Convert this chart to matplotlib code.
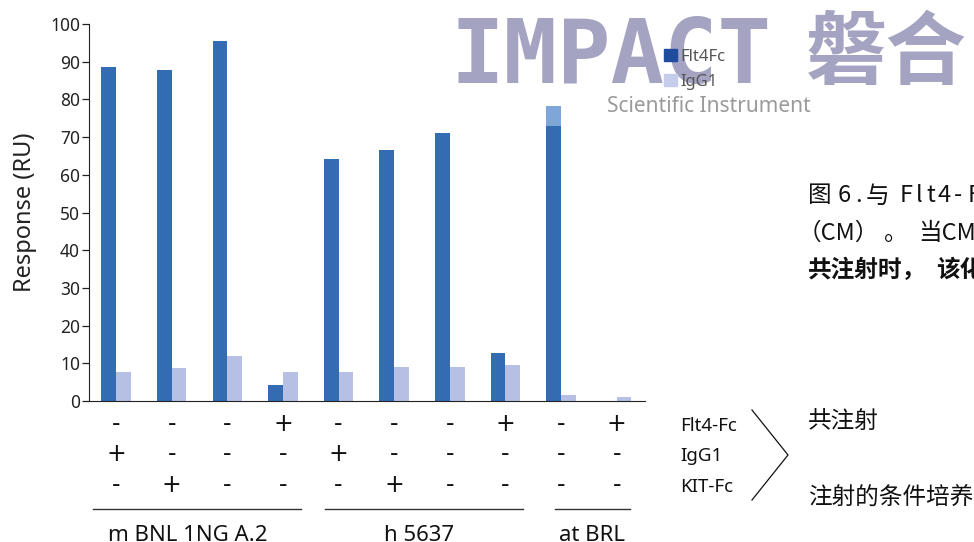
import matplotlib
matplotlib.use("Agg")
import matplotlib.pyplot as plt
from matplotlib.patches import Patch
from matplotlib.lines import Line2D
import numpy as np

plt.rcParams['font.family'] = ['Noto Sans', 'Noto Sans CJK SC', 'DejaVu Sans']

# ---- data ----
flt4fc = [88.5, 87.8, 95.5, 4.3, 64.3, 66.5, 71.0, 12.8, 72.9, 0.0]
flt4fc_extra = [0, 0, 0, 0, 0, 0, 0, 0, 5.4, 0]
igg1 = [7.7, 8.8, 12.0, 7.7, 7.7, 9.1, 9.1, 9.6, 1.5, 1.0]
row_flt4 = ['-', '-', '-', '+', '-', '-', '-', '+', '-', '+']
row_igg1 = ['+', '-', '-', '-', '+', '-', '-', '-', '-', '-']
row_kit = ['-', '+', '-', '-', '-', '+', '-', '-', '-', '-']
row_names = ['Flt4-Fc', 'IgG1', 'KIT-Fc']
groups = ['m BNL 1NG A.2', 'h 5637', 'at BRL']
group_spans = [(0, 3), (4, 7), (8, 9)]
yticks = [0, 10, 20, 30, 40, 50, 60, 70, 80, 90, 100]

DARK = '#346cb4'
LIGHT = '#b5c0e4'
CAP = '#7fa6d8'

W, H = 974, 542
fig = plt.figure(figsize=(W/100, H/100), dpi=100)
ax = fig.add_axes([89/W, 1-401/H, (645-89)/W, (401-24)/H])

x = np.arange(len(flt4fc))
w = 0.265
ax.bar(x - w/2, flt4fc, width=w, color=DARK, zorder=2)
ax.bar(x - w/2, flt4fc_extra, bottom=flt4fc, width=w, color=CAP, zorder=2)
ax.bar(x + w/2, igg1, width=w, color=LIGHT, zorder=2)

ax.set_xlim(-0.486, 9.51)
ax.set_ylim(0, 100)
ax.set_yticks(yticks)
ax.set_yticklabels([str(t) for t in yticks], fontsize=12.5, color='#222222')
ax.set_xticks([])
for s in ['top', 'right']:
    ax.spines[s].set_visible(False)
ax.spines['left'].set_color('#222222')
ax.spines['bottom'].set_color('#222222')
ax.tick_params(axis='y', length=5, width=0.9, pad=1.5, color='#222222')
ax.set_ylabel('Response (RU)', fontsize=17, labelpad=9, color='#222222')

trans = ax.get_xaxis_transform()
rows_y = [-0.061, -0.140, -0.224]
for rows, yy in zip([row_flt4, row_igg1, row_kit], rows_y):
    for xi, s in zip(x, rows):
        ax.text(xi, yy, s, transform=trans, ha='center', va='center',
                fontsize=17, color='#111111', clip_on=False,
                family='DejaVu Sans')

line_ext = [(-0.42, 0.32), (-0.24, 0.32), (-0.10, 0.24)]
label_x = [188, 419, 592]
for (a, b), (ea, eb), name, lx in zip(group_spans, line_ext, groups, label_x):
    ax.plot([a + ea, b + eb], [-0.286, -0.286], transform=trans,
            color='#333333', lw=1.0, clip_on=False)
    fig.text(lx/W, 1-541/H, name, ha='center', va='baseline',
             fontsize=16, color='#111111')

# watermark
WM = '#a4a3c1'
fig.text(451/W, 1-83/H, 'IMPACT', fontsize=64, fontweight='bold', color=WM,
         ha='left', va='baseline', zorder=5, family='DejaVu Sans Mono')
fig.text(806/W, 1-78/H, '磐合', fontsize=58, fontweight='bold', color=WM,
         ha='left', va='baseline', zorder=5, family='Noto Sans CJK SC')
fig.text(607/W, 1-112/H, 'Scientific Instrument', fontsize=15,
         color='#9a9a9a', ha='left', va='baseline', zorder=5)

# legend
handles = [Patch(color='#1f4c9c', label='Flt4Fc'), Patch(color='#c5cdea', label='IgG1')]
leg = fig.legend(handles=handles, loc='upper left', bbox_to_anchor=(664/W, 1-49/H),
                 frameon=False, fontsize=12, handlelength=0.75, handleheight=0.75,
                 handletextpad=0.25, labelspacing=0.55, borderaxespad=0, borderpad=0)
for t in leg.get_texts():
    t.set_color('#555555')
leg.set_zorder(6)

# row names and bracket
for name, yy in zip(row_names, [426, 456, 487]):
    fig.text(680/W, 1-yy/H, name, fontsize=13.5, color='#111111', ha='left', va='center')
fig.add_artist(Line2D([752/W, 788/W, 752/W], [1-410/H, 1-455/H, 1-500/H],
                      color='#111111', lw=0.9))

CJK = ['Noto Sans CJK SC', 'DejaVu Sans']
fig.text(808/W, 1-421/H, '共注射', fontsize=17, color='#111111', ha='left', va='center',
         family=CJK)
fig.text(808/W, 1-497/H, '注射的条件培养基', fontsize=17, color='#111111', ha='left',
         va='center', family=CJK)

# caption (letter-spaced, clipped at the right edge)
caption1 = [('图', 808), ('6', 838), ('.', 855), ('与', 866), ('F', 900), ('l', 916),
            ('t', 926), ('4', 938), ('-', 954), ('F', 968)]
for ch, px in caption1:
    fig.text(px/W, 1-196/H, ch, fontsize=17, color='#111111', ha='left', va='center',
             family=CJK)
caption2 = [('（CM）', 798), ('。', 884), ('当CM', 918)]
for s, px in caption2:
    fig.text(px/W, 1-233/H, s, fontsize=17, color='#111111', ha='left', va='center',
             family=CJK)
caption3 = [('共注射时，', 808), ('该化合物', 936)]
for s, px in caption3:
    fig.text(px/W, 1-270/H, s, fontsize=17, color='#111111', ha='left', va='center',
             fontweight='bold', family=CJK)

fig.savefig('out.png', dpi=100)
